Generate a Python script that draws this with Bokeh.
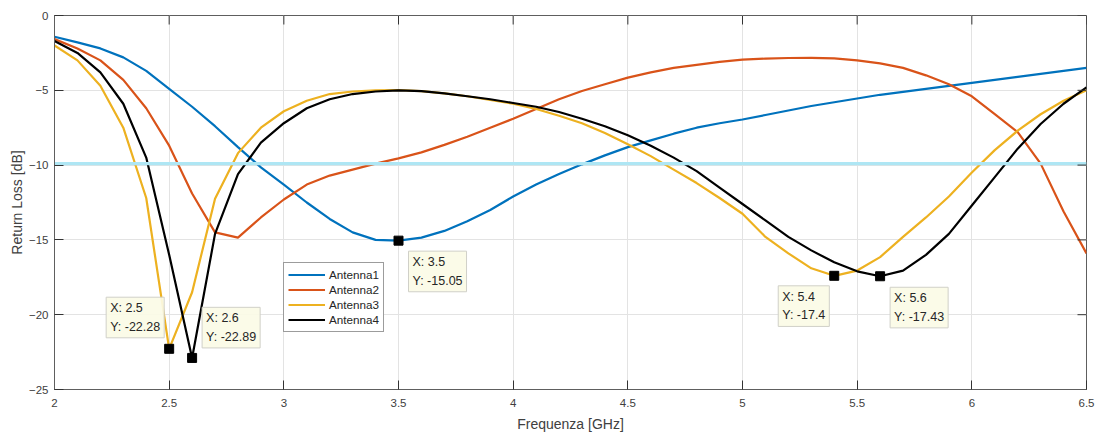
from bokeh.plotting import figure
from bokeh.models import (FixedTicker, Label, Range1d, Legend, LegendItem)
from bokeh.embed import file_html
from bokeh.resources import INLINE

# ---------------- data ----------------
freq = [2.0, 2.1, 2.2, 2.3, 2.4, 2.5, 2.6, 2.7, 2.8, 2.9,
        3.0, 3.1, 3.2, 3.3, 3.4, 3.5, 3.6, 3.7, 3.8, 3.9,
        4.0, 4.1, 4.2, 4.3, 4.4, 4.5, 4.6, 4.7, 4.8, 4.9,
        5.0, 5.1, 5.2, 5.3, 5.4, 5.5, 5.6, 5.7, 5.8, 5.9,
        6.0, 6.1, 6.2, 6.3, 6.4, 6.5]

antenna1 = [-1.42, -1.8, -2.2, -2.8, -3.7, -4.9, -6.1, -7.4, -8.8, -10.15,
            -11.3, -12.5, -13.6, -14.5, -15.0, -15.05, -14.85, -14.4, -13.75, -13.0,
            -12.1, -11.3, -10.6, -9.95, -9.35, -8.8, -8.35, -7.9, -7.5, -7.2,
            -6.95, -6.65, -6.35, -6.05, -5.8, -5.55, -5.3, -5.1, -4.9, -4.7,
            -4.5, -4.3, -4.1, -3.9, -3.7, -3.5]

antenna2 = [-1.58, -2.2, -3.0, -4.3, -6.2, -8.7, -11.9, -14.5, -14.85, -13.5,
            -12.3, -11.3, -10.7, -10.3, -9.9, -9.55, -9.15, -8.65, -8.1, -7.5,
            -6.9, -6.25, -5.6, -5.05, -4.6, -4.15, -3.8, -3.5, -3.3, -3.1,
            -2.95, -2.88, -2.84, -2.83, -2.86, -3.0, -3.2, -3.5, -4.0, -4.6,
            -5.4, -6.6, -7.8, -9.9, -13.1, -15.9]

antenna3 = [-2.0, -3.0, -4.7, -7.5, -12.2, -22.28, -18.5, -12.25, -9.2, -7.5,
            -6.4, -5.7, -5.25, -5.08, -5.0, -4.98, -5.05, -5.2, -5.4, -5.65,
            -5.9, -6.25, -6.7, -7.2, -7.85, -8.6, -9.4, -10.3, -11.2, -12.2,
            -13.25, -14.8, -15.9, -16.9, -17.4, -17.05, -16.15, -14.8, -13.5, -12.1,
            -10.5, -9.0, -7.7, -6.6, -5.7, -5.0]

antenna4 = [-1.7, -2.5, -3.8, -5.9, -9.5, -16.0, -22.89, -14.6, -10.6, -8.5,
            -7.2, -6.2, -5.6, -5.25, -5.08, -5.0, -5.05, -5.2, -5.4, -5.6,
            -5.85, -6.1, -6.45, -6.9, -7.4, -8.0, -8.7, -9.5, -10.4, -11.5,
            -12.6, -13.7, -14.8, -15.7, -16.5, -17.1, -17.43, -17.05, -16.0, -14.6,
            -12.7, -10.8, -8.9, -7.25, -5.9, -4.8]

series_names = ["Antenna1", "Antenna2", "Antenna3", "Antenna4"]
threshold = -9.9

tip_x = [2.5, 2.6, 3.5, 5.4, 5.6]
tip_y = [-22.28, -22.89, -15.05, -17.4, -17.43]

x_ticks = [2, 2.5, 3, 3.5, 4, 4.5, 5, 5.5, 6, 6.5]
y_ticks = [0, -5, -10, -15, -20, -25]
x_lim = (2, 6.5)
y_lim = (-25, 0)

# ---------------- styles ----------------
colors = ["#0072BD", "#D95319", "#EDB120", "#000000"]
FONT = "Liberation Sans"
TXT = "#404040"
AX = "#5e5e5e"
TICK = "#333333"
# datatip box placement: (text_baseline, x_offset, y_offset) in screen px
tip_style = [("bottom", -63, 11),
             ("bottom", 10, 10),
             ("top", 10, -10.5),
             ("top", -56, -10),
             ("top", 10, -11)]

p = figure(width=1100, height=435, output_backend="svg", toolbar_location=None,
           x_range=Range1d(*x_lim), y_range=Range1d(*y_lim),
           min_border_left=54, min_border_right=14, min_border_top=15, min_border_bottom=46)
p.background_fill_color = "white"
p.border_fill_color = "white"
p.outline_line_color = AX
p.outline_line_width = 1

for ax in (p.xaxis[0], p.yaxis[0]):
    ax.axis_line_color = AX
    ax.major_tick_line_color = TICK
    ax.major_tick_in = 9
    ax.major_tick_out = 0
    ax.minor_tick_line_color = None
    ax.major_label_text_font = FONT
    ax.major_label_text_font_size = "11.5px"
    ax.major_label_text_color = TXT
    ax.axis_label_text_font = FONT
    ax.axis_label_text_font_size = "14px"
    ax.axis_label_text_font_style = "normal"
    ax.axis_label_text_color = TXT

p.xaxis.ticker = FixedTicker(ticks=x_ticks)
p.yaxis.ticker = FixedTicker(ticks=y_ticks)
p.xaxis.axis_label = "Frequenza [GHz]"
p.yaxis.axis_label = "Return Loss [dB]"
p.xaxis.major_label_standoff = 9
p.xaxis.axis_label_standoff = 6
p.yaxis.major_label_standoff = 6
p.yaxis.axis_label_standoff = 1

p.xgrid.ticker = FixedTicker(ticks=x_ticks)
p.ygrid.ticker = FixedTicker(ticks=y_ticks)
p.grid.grid_line_color = "#e3e3e3"
p.grid.grid_line_width = 1

renderers = []
for name, ys, c in zip(series_names, [antenna1, antenna2, antenna3, antenna4], colors):
    r = p.line(freq, ys, line_color=c, line_width=2.2)
    renderers.append(r)

# threshold line
p.line([freq[0], freq[-1]], [threshold, threshold], line_color="#aee6f4", line_width=3.2)

# mirrored inward ticks on top and right edges
p.ray(x=x_ticks, y=[y_lim[1]] * len(x_ticks), length=9, length_units="screen",
      angle=-90, angle_units="deg", line_color=TICK, line_width=1)
p.ray(x=[x_lim[1]] * len(y_ticks), y=y_ticks, length=9, length_units="screen",
      angle=180, angle_units="deg", line_color=TICK, line_width=1)

# datatips
p.scatter(tip_x, tip_y, marker="square", size=9, fill_color="black", line_color="black")
for (tx, ty), (bl, xo, yo) in zip(zip(tip_x, tip_y), tip_style):
    lab = Label(x=tx, y=ty, x_units="data", y_units="data",
                text=f"X: {tx:g}\nY: {ty:g}",
                text_align="left", text_baseline=bl, x_offset=xo, y_offset=yo,
                text_font=FONT, text_font_size="12.5px", text_color="#262626",
                text_line_height=1.33,
                background_fill_color="#fbfbe6", background_fill_alpha=0.92,
                border_line_color="#d0d0c8", border_line_width=1, padding=4)
    p.add_layout(lab)

legend = Legend(items=[LegendItem(label=n, renderers=[r]) for n, r in zip(series_names, renderers)],
                location=(229, 57), orientation="vertical")
legend.label_text_font = FONT
legend.label_text_font_size = "11.7px"
legend.label_text_color = "#262626"
legend.glyph_width = 37
legend.glyph_height = 15
legend.label_height = 15
legend.label_standoff = 4
legend.spacing = 0
legend.padding = 4
legend.margin = 0
legend.border_line_color = "#3a3a3a"
legend.border_line_width = 1
legend.background_fill_color = "white"
legend.background_fill_alpha = 1
p.add_layout(legend, "center")

open("out.html", "w").write(file_html(p, INLINE))
